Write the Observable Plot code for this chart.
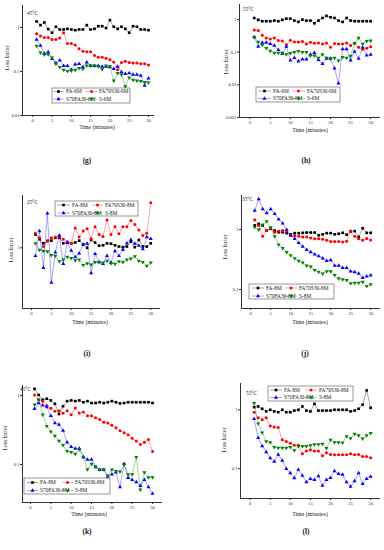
<!DOCTYPE html>
<html><head><meta charset="utf-8">
<script src="https://cdn.jsdelivr.net/npm/d3@7"></script>
<script src="https://cdn.jsdelivr.net/npm/@observablehq/plot@0.6"></script>
<style>
body{margin:0;background:#fff;}
#root{position:relative;width:384px;height:550px;overflow:hidden;font-family:"Liberation Serif","Times New Roman",serif;color:#222;}
.abs{position:absolute;white-space:nowrap;line-height:1;}
</style></head><body><div id="root"></div>
<script>
// ---------- data ----------
const time = [1,2,3,4,5,6,7,8,9,10,11,12,13,14,15,16,17,18,19,20,21,22,23,24,25,26,27,28,29,30];
const xTicks = [0,5,10,15,20,25,30];

const names6 = ["FA-6M","FA70S30-6M","S70FA30-6M","S-6M"];
const names8 = ["FA-8M","FA70S30-8M","S70FA30-8M","S-8M"];
const panelTags = ["(g)","(h)","(i)","(j)","(k)","(l)"];
const temps = ["45°C","55°C","25°C","35°C","45°C","55°C"];
const yTicksG = [0.01,0.1,1];
const yTicksH = [0.001,0.01,0.1,1];
const yTicksI = [1];
const yTicksJ = [0.1,1];
const yTicksK = [0.1,1];
const yTicksL = [0.1,1];

// (g) 45°C, 6M
const gFA   = [1.37,1.13,1.30,0.92,0.76,1.04,0.90,0.90,0.93,0.90,0.87,0.90,0.90,1.13,0.90,0.93,1.07,1.07,0.97,1.47,1.04,0.93,1.04,0.93,0.76,1.07,1.04,0.90,0.90,0.87];
const gFAS  = [0.72,0.64,0.59,0.59,0.53,0.53,0.58,0.76,0.43,0.43,0.40,0.33,0.29,0.28,0.28,0.23,0.21,0.21,0.20,0.185,0.165,0.11,0.16,0.17,0.16,0.155,0.155,0.15,0.15,0.14];
const gSFA  = [0.53,0.39,0.254,0.277,0.195,0.155,0.179,0.135,0.135,0.109,0.145,0.15,0.126,0.161,0.135,0.135,0.135,0.13,0.13,0.126,0.115,0.13,0.097,0.0885,0.092,0.085,0.085,0.081,0.048,0.07];
const gS    = [0.38,0.267,0.241,0.245,0.206,0.15,0.126,0.109,0.102,0.105,0.109,0.119,0.115,0.135,0.135,0.135,0.13,0.113,0.135,0.13,0.062,0.092,0.085,0.046,0.072,0.064,0.062,0.06,0.057,0.056];
// (h) 55°C, 6M
const hFA   = [1.12,0.98,0.89,0.89,0.89,0.93,0.89,0.98,1.07,1.07,0.93,0.85,1.0,0.93,0.93,0.77,0.93,1.12,1.3,1.18,1.12,0.93,0.85,1.12,0.93,0.89,0.89,0.89,0.89,0.89];
const hFAS  = [0.48,0.46,0.33,0.275,0.256,0.275,0.228,0.222,0.168,0.233,0.207,0.207,0.212,0.18,0.202,0.189,0.193,0.18,0.193,0.142,0.185,0.18,0.18,0.193,0.16,0.189,0.142,0.124,0.133,0.146];
const hSFA  = [0.29,0.149,0.198,0.198,0.18,0.16,0.118,0.089,0.149,0.056,0.067,0.053,0.061,0.061,0.085,0.095,0.058,0.044,0.064,0.064,0.032,0.0112,0.124,0.124,0.056,0.105,0.064,0.142,0.081,0.085];
const hS    = [0.288,0.207,0.168,0.133,0.11,0.095,0.095,0.095,0.085,0.093,0.1,0.107,0.1,0.1,0.079,0.079,0.067,0.085,0.067,0.064,0.067,0.0556,0.070,0.067,0.077,0.189,0.275,0.18,0.217,0.228];
// (i) 25°C, 8M
const iFA   = [1.36,1.22,1.11,1.17,1.18,1.26,1.26,1.11,1.13,1.11,1.13,1.18,1.08,1.0,1.2,1.13,1.05,1.06,1.11,1.1,1.06,1.03,1.015,1.03,1.15,1.015,1.2,1.03,1.03,1.11];
const iFAS  = [1.40,1.26,1.03,1.18,1.26,1.28,1.30,1.22,1.15,1.11,1.58,1.28,1.47,1.55,1.23,1.63,1.36,1.30,1.90,1.36,1.63,1.38,1.63,1.63,1.88,1.71,1.51,1.33,1.40,2.82];
const iSFA  = [0.83,1.47,0.63,2.22,0.45,0.90,1.33,0.69,1.12,0.94,0.81,0.88,1.08,1.10,0.56,0.87,0.72,0.69,0.83,0.71,0.93,0.83,0.955,1.11,1.2,1.1,1.055,0.97,1.28,1.23];
const iS    = [1.11,0.955,0.93,0.92,0.845,0.83,0.73,0.76,0.81,0.79,0.75,0.76,0.67,0.70,0.68,0.72,0.72,0.71,0.74,0.70,0.69,0.73,0.72,0.76,0.78,0.82,0.74,0.72,0.66,0.71];
// (j) 35°C, 8M
const jFA   = [1.17,1.24,1.17,0.96,1.03,0.96,0.90,0.90,0.87,0.83,0.87,0.87,0.88,0.89,0.89,0.89,0.80,0.83,0.87,0.87,0.83,0.85,0.88,0.82,0.93,0.94,0.75,1.05,0.88,0.88];
const jFAS  = [1.45,1.17,0.77,0.96,1.07,0.90,0.94,0.96,0.94,0.80,0.79,0.77,0.75,0.75,0.72,0.70,0.70,0.69,0.66,0.63,0.63,0.63,0.62,0.64,0.94,0.77,0.70,0.66,0.71,0.67];
const jSFA  = [2.07,3.22,2.20,1.87,2.20,1.82,1.48,1.27,0.99,0.80,0.70,0.60,0.52,0.46,0.42,0.385,0.36,0.33,0.30,0.31,0.25,0.25,0.23,0.23,0.20,0.196,0.184,0.156,0.166,0.173];
const jS    = [1.09,0.99,1.21,1.37,1.07,0.77,0.56,0.49,0.42,0.37,0.33,0.30,0.28,0.25,0.24,0.21,0.196,0.184,0.20,0.20,0.173,0.153,0.147,0.143,0.126,0.129,0.129,0.134,0.114,0.121];
// (k) 45°C, 8M
const kFA   = [1.25,1.02,0.87,0.90,0.85,0.76,0.54,0.70,0.83,0.85,0.83,0.85,0.80,0.83,0.78,0.78,0.80,0.78,0.80,0.83,0.80,0.77,0.78,0.80,0.80,0.80,0.80,0.80,0.80,0.78];
const kFAS  = [1.02,0.875,0.83,0.72,0.655,0.59,0.60,0.555,0.60,0.525,0.66,0.56,0.58,0.51,0.51,0.475,0.45,0.41,0.40,0.37,0.34,0.31,0.29,0.27,0.24,0.22,0.195,0.21,0.23,0.154];
const kSFA  = [0.64,0.78,0.72,0.68,0.51,0.40,0.38,0.31,0.21,0.18,0.17,0.17,0.128,0.118,0.118,0.092,0.084,0.084,0.067,0.072,0.077,0.047,0.102,0.064,0.06,0.0555,0.049,0.06,0.047,0.038];
const kS    = [0.74,0.865,0.53,0.36,0.30,0.26,0.22,0.19,0.156,0.151,0.143,0.165,0.128,0.085,0.102,0.094,0.085,0.085,0.069,0.084,0.08,0.079,0.1,0.072,0.072,0.128,0.043,0.077,0.065,0.065];
// (l) 55°C, 8M
const lFA   = [1.11,1.14,1.04,0.94,1.0,0.94,0.91,1.0,0.91,0.91,0.97,1.0,1.14,0.97,0.94,1.26,0.97,0.97,0.97,0.97,1.0,1.0,1.0,1.0,0.94,0.97,1.04,1.22,2.13,1.08];
const lFAS  = [0.91,0.73,0.68,0.73,0.53,0.51,0.50,0.31,0.29,0.27,0.25,0.25,0.18,0.20,0.21,0.20,0.20,0.166,0.187,0.175,0.173,0.173,0.173,0.173,0.18,0.173,0.175,0.162,0.162,0.154];
const lSFA  = [0.70,0.335,0.242,0.192,0.152,0.133,0.175,0.138,0.1,0.0845,0.0695,0.0975,0.077,0.0594,0.0677,0.0652,0.075,0.052,0.0652,0.0704,0.0912,0.0822,0.080,0.0594,0.05,0.0618,0.0845,0.0557,0.0677,0.074];
const lS    = [1.30,0.58,0.41,0.29,0.28,0.233,0.227,0.227,0.227,0.233,0.205,0.242,0.242,0.242,0.249,0.259,0.259,0.265,0.224,0.31,0.28,0.28,0.276,0.353,0.327,0.392,0.367,0.323,0.367,0.403];

// ---------- styling ----------
const downTriangle = {
  draw(context, size) {
    const y = -Math.sqrt(size / (Math.sqrt(3) * 3));
    context.moveTo(0, -y * 2);
    context.lineTo(Math.sqrt(3) * y, y);
    context.lineTo(-Math.sqrt(3) * y, y);
    context.closePath();
  }
};
const colors = ["#000000", "#ff0000", "#0000ff", "#008000"];
const symbols = [d3.symbolSquare, d3.symbolCircle, d3.symbolTriangle, downTriangle];

// layout (page pixel positions of each panel's axes)
const layout = [
  {L:22, R:153, T:5,   B:115, xd:[-2.66,31.3], yd:[0.01,3.16],   yt:yTicksG, names:names6, vals:[gFA,gFAS,gSFA,gS],
   temp:[27,14], ylab:[8,58], xlab:[97,128], tag:[87,161], leg:{x0:52,x1:130,y0:88,y1:103,r:[91.5,99],s:[[53.5,63.5],[86,97]],tx:[66,99]}},
  {L:239, R:379, T:4,  B:117, xd:[-2.67,32.2], yd:[0.001,2.9],   yt:yTicksH, names:names6, vals:[hFA,hFAS,hSFA,hS],
   temp:[243,10], ylab:[227,62], xlab:[310,131], tag:[306,161], leg:{x0:256,x1:340,y0:87,y1:102,r:[91,98.5],s:[[258,271],[292,305]],tx:[273,307]}},
  {L:22, R:159, T:195, B:308, xd:[-2.26,32.2], yd:[0.247,3.34],  yt:yTicksI, names:names8, vals:[iFA,iFAS,iSFA,iS],
   temp:[27,203], ylab:[12,250], xlab:[90,323], tag:[87,354], leg:{x0:55,x1:138,y0:201,y1:216,r:[205,213],s:[[57,70],[92,103]],tx:[72,105]}},
  {L:241, R:379, T:195, B:308, xd:[-2.3,32.2], yd:[0.0482,3.69], yt:yTicksJ, names:names8, vals:[jFA,jFAS,jSFA,jS],
   temp:[242,200], ylab:[226,247], xlab:[310,323], tag:[305,354], leg:{x0:249,x1:334,y0:284,y1:299,r:[288,296],s:[[252,264],[285,297]],tx:[266,299]}},
  {L:22, R:161, T:385, B:502, xd:[-1.97,32.2], yd:[0.0281,1.4],  yt:yTicksK, names:names8, vals:[kFA,kFAS,kSFA,kS],
   temp:[20,390], ylab:[6,438], xlab:[89,515], tag:[87,532], leg:{x0:24,x1:110,y0:478,y1:494,r:[482.5,490.5],s:[[27,38],[62,73]],tx:[40,75]}},
  {L:240, R:379, T:383, B:498, xd:[-2.4,32.2], yd:[0.0314,2.79], yt:yTicksL, names:names8, vals:[lFA,lFAS,lSFA,lS],
   temp:[246,394], ylab:[225,440], xlab:[310,515], tag:[306,532], leg:{x0:268,x1:353,y0:386,y1:401,r:[390,397.5],s:[[270,282],[305,317]],tx:[284,319]}}
];

const root = document.getElementById("root");
function addText(txt, x, y, opts = {}) {
  const d = document.createElement("div");
  d.className = "abs";
  d.textContent = txt;
  d.style.left = x + "px";
  d.style.top = y + "px";
  d.style.fontSize = (opts.size || 6) + "px";
  if (opts.bold) d.style.fontWeight = "bold";
  d.style.transform = opts.rotate ? "translate(-50%,-50%) rotate(-90deg)" : (opts.anchor === "start" ? "translate(0,-50%)" : "translate(-50%,-50%)");
  root.appendChild(d);
}

layout.forEach((p, pi) => {
  const ml = 20, mr = 4, mt = 4, mb = 12;
  const w = p.R - p.L + ml + mr, h = p.B - p.T + mt + mb;
  const marks = [];
  p.vals.forEach((vals, si) => {
    const d = vals.map((v, i) => ({t: time[i], v}));
    marks.push(Plot.line(d, {x: "t", y: "v", stroke: colors[si], strokeWidth: 0.6, strokeOpacity: 0.6}));
  });
  p.vals.forEach((vals, si) => {
    const d = vals.map((v, i) => ({t: time[i], v}));
    marks.push(Plot.dot(d, {x: "t", y: "v", symbol: symbols[si], fill: colors[si], stroke: "none", r: 1.5}));
  });
  const svg = Plot.plot({
    width: w, height: h,
    marginLeft: ml, marginRight: mr, marginTop: mt, marginBottom: mb,
    x: {type: "linear", domain: p.xd, ticks: xTicks, tickFormat: d => String(d), tickSize: 2, tickPadding: 1, label: null, line: true},
    y: {type: "log", domain: p.yd, ticks: p.yt, tickFormat: d => String(d), tickSize: 2, tickPadding: 1, label: null, line: true},
    style: {fontFamily: "Liberation Serif, serif", fontSize: "4.6px", color: "#333", background: "transparent", overflow: "visible"},
    marks
  });
  svg.style.position = "absolute";
  svg.style.left = (p.L - ml) + "px";
  svg.style.top = (p.T - mt) + "px";
  root.appendChild(svg);

  addText(temps[pi], p.temp[0], p.temp[1], {size: 5.3, anchor: "start"});
  addText("Loss factor", p.ylab[0], p.ylab[1], {size: 5.6, rotate: true});
  addText("Time (minutes)", p.xlab[0], p.xlab[1], {size: 5.8});
  addText(panelTags[pi], p.tag[0], p.tag[1], {size: 7.5, bold: true});
});

// legends (drawn in one overlay svg)
const overlay = d3.select(root).append("svg")
  .attr("width", 384).attr("height", 550)
  .style("position", "absolute").style("left", "0px").style("top", "0px")
  .style("font-family", "Liberation Serif, serif");
layout.forEach(p => {
  const g = p.leg;
  overlay.append("rect").attr("x", g.x0).attr("y", g.y0).attr("width", g.x1 - g.x0).attr("height", g.y1 - g.y0)
    .attr("fill", "#fff").attr("stroke", "#333").attr("stroke-width", 0.5);
  p.names.forEach((nm, si) => {
    const row = si < 2 ? 0 : 1;
    const col = si % 2;
    const y = g.r[row];
    const [sx0, sx1] = g.s[col];
    overlay.append("line").attr("x1", sx0).attr("x2", sx1).attr("y1", y).attr("y2", y)
      .attr("stroke", colors[si]).attr("stroke-width", 0.6).attr("stroke-opacity", 0.6);
    overlay.append("path").attr("d", d3.symbol(symbols[si], Math.PI * 1.5 * 1.5)())
      .attr("transform", `translate(${(sx0 + sx1) / 2},${y})`).attr("fill", colors[si]);
    overlay.append("text").attr("x", g.tx[col]).attr("y", y).attr("dy", "0.35em")
      .attr("font-size", 5.4).attr("fill", "#222").text(nm);
  });
});
</script>
</body></html>
